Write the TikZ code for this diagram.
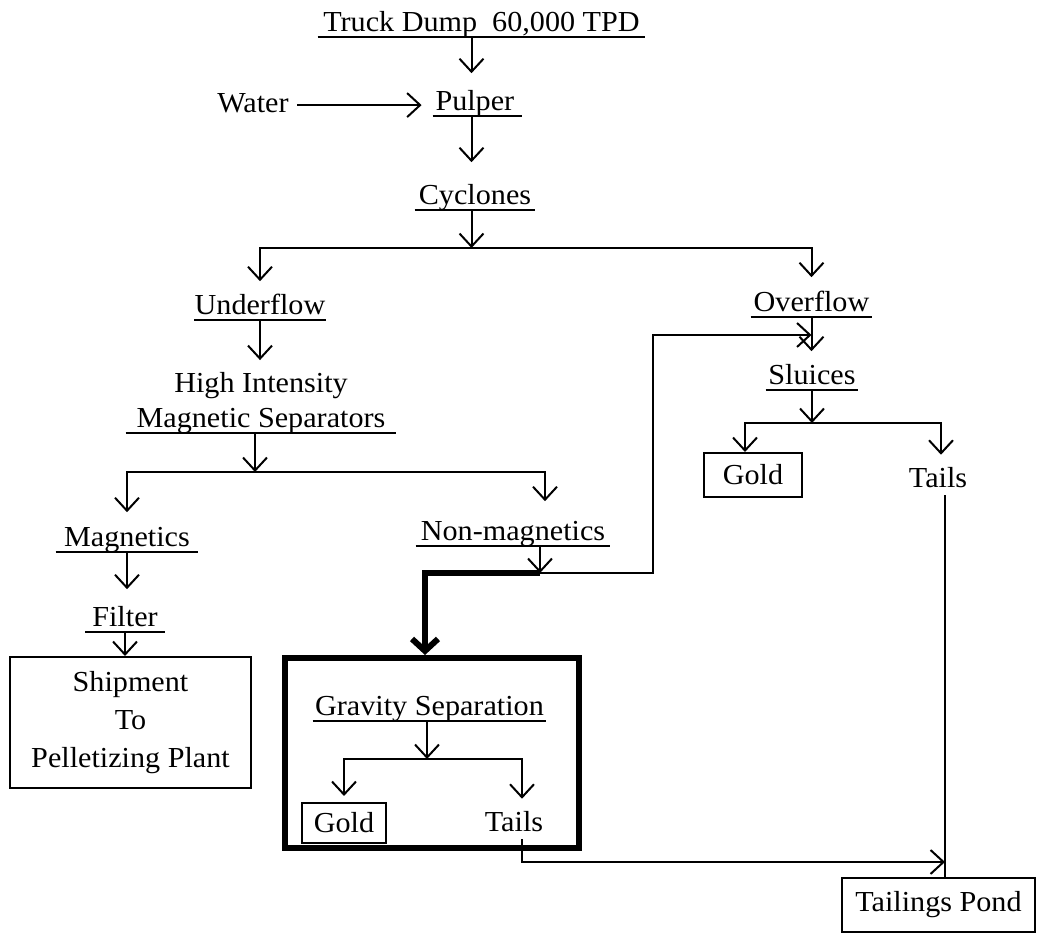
\documentclass[tikz,border=0pt]{standalone}
\usepackage{fontspec}
\setmainfont[FakeStretch=1.04]{Liberation Serif}
\usetikzlibrary{positioning, arrows.meta}

\begin{document}
\begin{tikzpicture}[
  x=0.5pt, y=-0.5pt,
  every node/.style={font=\fontsize{14.5}{17}\selectfont},
  stage/.style={minimum width=#1*0.5pt, text height=10pt, text depth=2.5pt,
                inner xsep=0pt, inner ysep=0pt, anchor=south},
  boxed/.style args={#1/#2}{draw, line width=1pt, minimum width=#1*0.5pt,
                minimum height=#2*0.5pt, inner sep=2pt},
  frame/.style={draw, line width=3pt, minimum width=294*0.5pt,
                minimum height=190*0.5pt, inner sep=0pt},
  flow/.style={line width=1pt, -{Straight Barb[length=6.5pt, width=12pt]}},
  heavy/.style={line width=3pt, -{Straight Barb[length=6pt, width=13pt]}},
  plain/.style={line width=1pt}
]
  \useasboundingbox (0,0) rectangle (1041,935);

  % column and junction points
  \coordinate (trunk) at (471.5,0);
  \coordinate (cysplit) at (471.5,248);
  \coordinate (magsplit) at (255,472);
  \coordinate (nmjoin) at (540,573);
  \coordinate (loop) at (653,335);
  \coordinate (slsplit) at (812,423);
  \coordinate (gsplit) at (427,759);
  \coordinate (pondjoin) at (945,862);

  \node[stage=327] (dump) at (481.5,37) {Truck Dump~~60,000 TPD};
  \node[stage=89, text width=42pt, align=left] (pulper) at (477.5,116) {Pulper};
  \node[stage=0, anchor=south east, inner xsep=0pt] (water) at (289,118) {Water};
  \node[stage=120] (cyclones) at (475,210) {Cyclones};
  \node[stage=130] (underflow) at (260,320) {Underflow};
  \node[stage=121] (overflow) at (811.5,317) {Overflow};
  \node[stage=92] (sluices) at (812,390) {Sluices};
  \node[stage=270, text height=, align=center,
        font=\fontsize{14.5}{17.5}\selectfont] (magsep) at (261,433)
        {High Intensity\\Magnetic Separators};
  \node[stage=142] (magnetics) at (127,552) {Magnetics};
  \node[stage=79] (filter) at (125,632) {Filter};
  \node[stage=194] (nonmag) at (513,546) {Non-magnetics};

  \node[frame] (gravbox) at (432,753) {};
  \node[stage=233] (gravity) at (429.5,721) {Gravity Separation};
  \node[boxed={84/40}] (gravgold) at (344,823) {Gold};
  \node (gravtails) at (514,822) {Tails};

  \node[boxed={98/44}] (gold) at (753,475) {Gold};
  \node (tails) at (938,478) {Tails};
  \node[boxed={241/131}, align=center, font=\fontsize{14.5}{19}\selectfont]
        (shipment) at (130.5,722.5) {Shipment\\To\\Pelletizing Plant};
  \node[boxed={193/54}] (pond) at (938.5,905) {Tailings Pond};

  % underlines
  \foreach \n in {dump,pulper,cyclones,underflow,overflow,sluices,magsep,
                  magnetics,filter,nonmag,gravity}{
    \draw[plain] (\n.south west) -- (\n.south east);
  }

  \draw[flow, shorten >=8.5pt] (dump.south -| trunk) -- (pulper.north -| trunk);
  \draw[flow, shorten <=4pt, shorten >=5.5pt] (water.east) -- (water.east -| pulper.west);
  \draw[flow, shorten >=11pt] (pulper.south -| trunk) -- (cyclones.north -| trunk);
  \draw[flow] (cyclones.south -| trunk) -- (cysplit);
  \draw[flow, shorten >=6.5pt] (cysplit) -| (underflow.north);
  \draw[flow, shorten >=7pt] (cysplit) -| (overflow.north);

  \draw[flow, shorten >=6pt] (underflow.south) -- (underflow.south |- magsep.north);
  \draw[flow] (magsep.south -| magsplit) -- (magsplit);
  \draw[flow, shorten >=7pt] (magsplit) -| (magnetics.north);
  \draw[flow, shorten >=9.5pt] (magsplit) -| ([xshift=16pt]nonmag.north);
  \draw[flow, shorten >=8.5pt] (magnetics.south) -- (magnetics.south |- filter.north);
  \draw[flow] (filter.south) -- (filter.south |- shipment.north);

  \draw[flow] (nonmag.south -| nmjoin) -- (nmjoin);
  \draw[flow] (nmjoin) -| (loop) -- (loop -| overflow.south);
  \draw[heavy] (nmjoin) -| ([xshift=-3.5pt]gravbox.north);

  \draw[flow, shorten >=6.5pt] (overflow.south) -- (overflow.south |- sluices.north);
  \draw[flow] (sluices.south) -- (slsplit);
  \draw[flow] (slsplit) -| ([xshift=-4pt]gold.north);
  \draw[flow, shorten >=3pt] (slsplit) -| ([xshift=1.5pt]tails.north);

  \draw[flow] (gravity.south -| gsplit) -- (gsplit);
  \draw[flow, shorten >=3pt] (gsplit) -| (gravgold.north);
  \draw[flow, shorten >=3pt] (gsplit) -| ([xshift=4pt]gravtails.north);

  \draw[plain] ([xshift=3.5pt]tails.south) -- ([xshift=3.5pt]tails.south |- pond.north);
  \draw[flow] ([xshift=4pt]gravtails.south) |- (pondjoin);
\end{tikzpicture}
\end{document}
